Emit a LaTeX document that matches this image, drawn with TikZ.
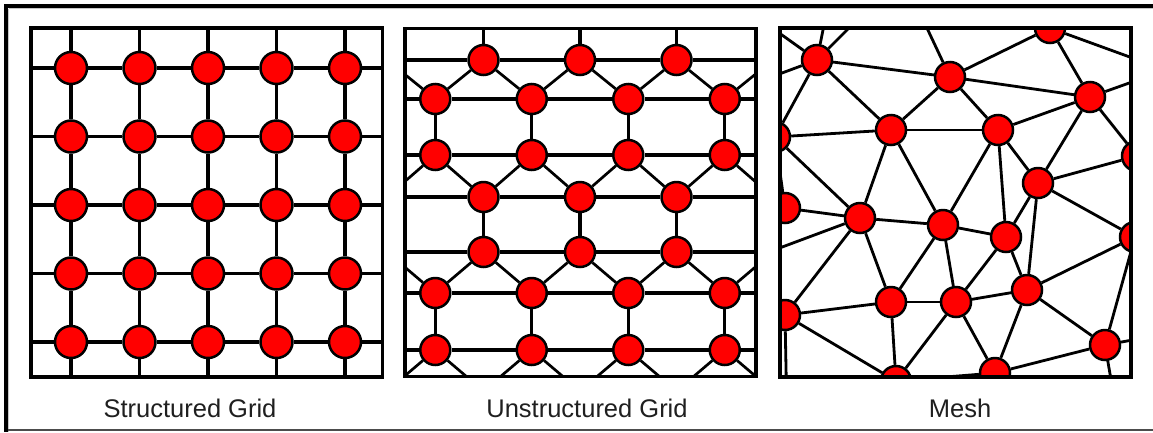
\documentclass[tikz,border=0pt]{standalone}
\usepackage{fontspec}
\setmainfont{Liberation Sans}
\begin{document}
\begin{tikzpicture}[x=1pt,y=-1pt]
\tikzset{
  dot/.style={circle, draw=black, fill=red, line width=2.5pt, minimum size=30pt, inner sep=0pt},
  bigdot/.style={dot, minimum size=32pt},
  wire/.style={line width=3.3pt, black},
  diag/.style={line width=2.7pt, black},
  meshwire/.style={line width=2.8pt, black},
  panel/.style={line width=3.8pt, black},
  caption/.style={font=\fontsize{25.5}{30}\selectfont, text=black!88, anchor=base, inner sep=0pt},
}
\useasboundingbox (0,0) rectangle (1153,432);
\fill[white] (0,0) rectangle (1153,432);

% sunken outer frame
\draw[line width=4pt, black] (4,5.8) -- (1153,5.8);
\draw[line width=3.6pt, black] (6.2,4) -- (6.2,432);
\draw[line width=1.4pt, black!22] (8.7,8.5) -- (1153,8.5);
\draw[line width=1.4pt, black!22] (8.7,8.5) -- (8.7,432);
\draw[line width=1.8pt, black!70] (8,430) -- (1153,430);

% ---------- structured grid ----------
\foreach \i in {1,...,5} {
  \pgfmathsetmacro{\xx}{71+68.5*(\i-1)}
  \pgfmathsetmacro{\yy}{68+68.5*(\i-1)}
  \coordinate (st-t\i) at (\xx,28);
  \coordinate (st-b\i) at (\xx,377);
  \coordinate (st-l\i) at (31,\yy);
  \coordinate (st-r\i) at (382.5,\yy);
}
\foreach \i in {1,...,5} {
  \foreach \j in {1,...,5} {
    \pgfmathsetmacro{\xx}{71+68.5*(\i-1)}
    \pgfmathsetmacro{\yy}{68+68.5*(\j-1)}
    \node[bigdot] (s\i-\j) at (\xx,\yy) {};
  }
}
\foreach \i in {1,...,5} {
  \draw[wire] (st-t\i) -- (s\i-1) -- (s\i-2) -- (s\i-3) -- (s\i-4) -- (s\i-5) -- (st-b\i);
  \draw[wire] (st-l\i) -- (s1-\i) -- (s2-\i) -- (s3-\i) -- (s4-\i) -- (s5-\i) -- (st-r\i);
}
\draw[panel] (31,28) rectangle (382.5,377);
\node[caption] (cap1) at (190,417) {Structured Grid};

% ---------- unstructured grid ----------
\begin{scope}
\clip (405,28.5) rectangle (756,376.5);
% rows of three (A) and four (B) points
\foreach \r/\y in {1/60,4/197,5/252} {
  \foreach \c/\x in {1/483.5,2/580,3/676.5}
    \node[dot] (u\r-\c) at (\x,\y) {};
  \coordinate (u\r-0) at (387,\y);
  \coordinate (u\r-4) at (773,\y);
  \coordinate (ul\r) at (405,\y);
  \coordinate (ur\r) at (756,\y);
  \draw[wire] (ul\r) -- (u\r-1) -- (u\r-2) -- (u\r-3) -- (ur\r);
}
\foreach \r/\y in {2/99,3/155,6/293,7/350} {
  \foreach \c/\x in {1/435.25,2/531.75,3/628.25,4/724.75}
    \node[dot] (u\r-\c) at (\x,\y) {};
  \coordinate (ul\r) at (405,\y);
  \coordinate (ur\r) at (756,\y);
  \draw[wire] (ul\r) -- (u\r-1) -- (u\r-2) -- (u\r-3) -- (u\r-4) -- (ur\r);
}
\foreach \c/\x in {0/387,1/483.5,2/580,3/676.5,4/773}
  \coordinate (u8-\c) at (\x,391);
% stems to the top edge
\foreach \c/\x in {1/483.5,2/580,3/676.5} {
  \coordinate (ut\c) at (\x,28.5);
  \draw[wire] (u1-\c) -- (ut\c);
}
% vertical links
\foreach \c in {1,...,4} {
  \draw[wire] (u2-\c) -- (u3-\c);
  \draw[wire] (u6-\c) -- (u7-\c);
}
\foreach \c in {1,2,3}
  \draw[wire] (u4-\c) -- (u5-\c);
% slanted links between A and B rows
\foreach \a/\b in {1/2,4/3,5/6,8/7} {
  \foreach \c [evaluate=\c as \p using int(\c-1)] in {1,...,4} {
    \draw[diag] (u\b-\c) -- (u\a-\p);
    \draw[diag] (u\b-\c) -- (u\a-\c);
  }
}
\end{scope}
\draw[panel] (405,28.5) rectangle (756,376.5);
\node[caption] (cap2) at (587,417) {Unstructured Grid};

% ---------- mesh ----------
\begin{scope}
\clip (780,28) rectangle (1131,377);
\foreach \n/\x/\y in {1/817/60, 2/950/77, 3/1050/28, 4/1090/97, 5/891/130,
    6/998/130, 7/775/137, 8/1137/156, 9/1038/183, 10/785/208, 11/860/218,
    12/943/225, 13/1006/237, 14/1135/237, 15/891/302, 16/956/302,
    17/1027/290, 18/785/315, 19/1105/345, 20/896/381, 21/995/373}
  \node[dot] (m\n) at (\x,\y) {};
% outer ends of the edges that leave the frame
\coordinate (o1) at (827,10);
\coordinate (o2) at (862,15);
\coordinate (o3) at (747,10);
\coordinate (o4) at (747,86);
\coordinate (o5) at (918,9);
\coordinate (o6) at (1160,68);
\coordinate (o7) at (1160,72);
\coordinate (o8) at (750,259);
\coordinate (o9) at (787,420);
\coordinate (o10) at (1160,335);
\coordinate (o11) at (1118,420);
\foreach \a/\b in {1/o1,1/o2,1/o3,1/o4,2/o5,3/o6,4/o7,11/o8,18/o9,19/o10,19/o11}
  \draw[meshwire] (m\a) -- (\b);
\foreach \a/\b in {1/2,1/5,1/7,2/3,2/4,2/5,2/6,3/4,4/6,4/8,4/9,5/6,5/7,5/11,
    5/12,6/12,6/13,6/9,7/11,7/10,8/9,9/13,9/17,9/14,10/11,11/12,11/15,11/18,
    12/13,12/15,12/16,13/16,13/17,14/17,14/19,15/16,15/18,15/20,16/17,16/20,
    16/21,17/21,17/19,18/20,19/21,20/21}
  \draw[meshwire] (m\a) -- (m\b);
\end{scope}
\draw[panel] (780,28) rectangle (1131,377);
\node[caption] (cap3) at (960,417) {Mesh};
\end{tikzpicture}
\end{document}
